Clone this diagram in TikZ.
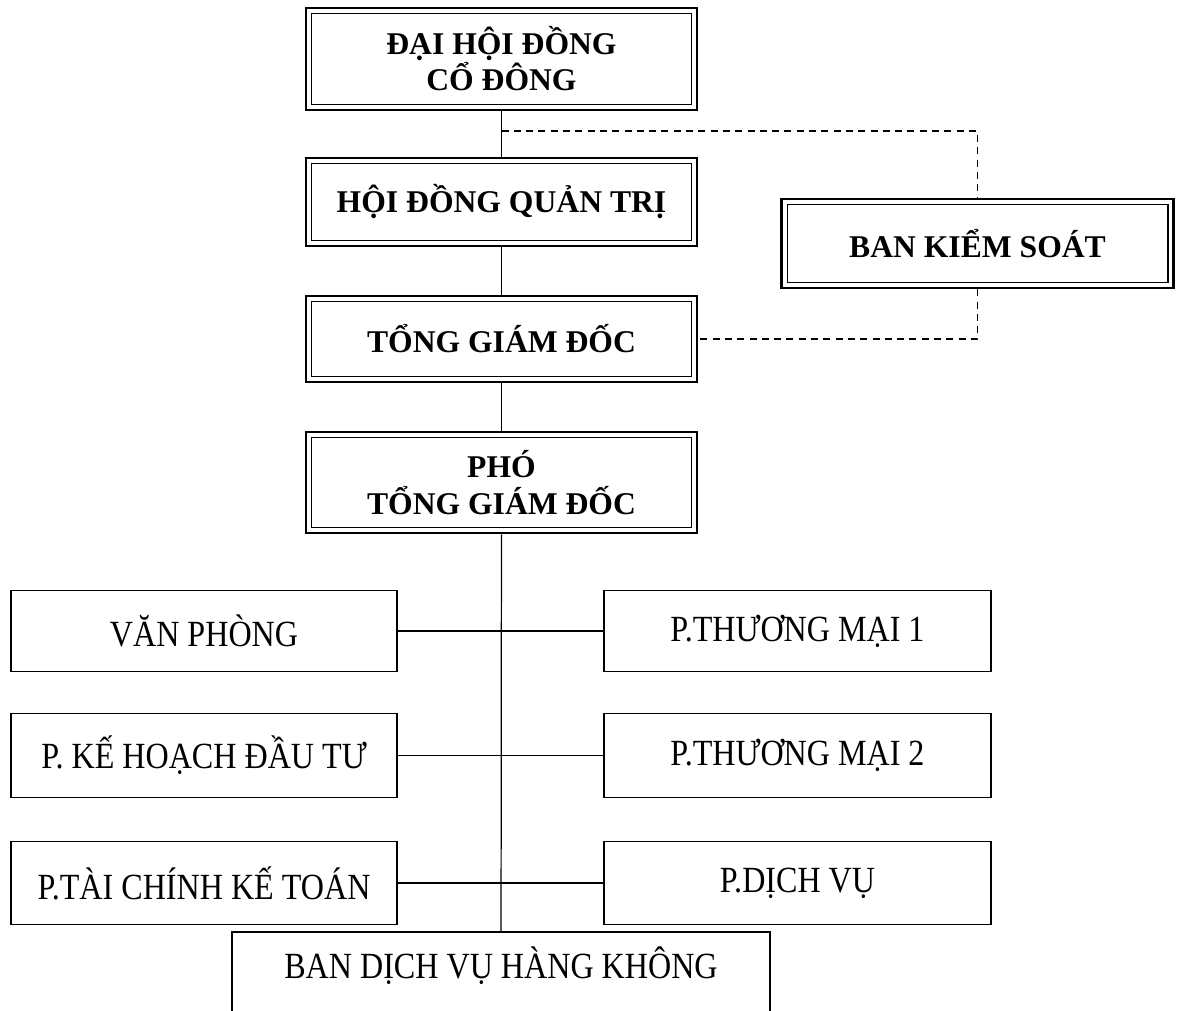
\documentclass[tikz,border=0pt]{standalone}
\usepackage{fontspec}
\setmainfont{Liberation Serif}
\newfontfamily\narrowfont[FakeStretch=0.87]{Liberation Serif}
\usetikzlibrary{calc}

\begin{document}
\begin{tikzpicture}[
    topbox/.style={draw, line width=1.5pt, minimum width=7.82cm, align=center,
      font=\bfseries\fontsize{18}{20.5}\selectfont,
      path picture={\draw[line width=0.7pt]
        ([shift={(3.2pt,3.2pt)}]path picture bounding box.south west) rectangle
        ([shift={(-3.2pt,-3.2pt)}]path picture bounding box.north east);}},
    deptbox/.style={draw, line width=0.9pt, minimum width=7.73cm, align=center,
      font=\narrowfont\fontsize{21}{24}\selectfont},
    link/.style={line width=0.7pt},
    ctrl/.style={line width=0.9pt, dash pattern=on 4pt off 3pt}]
  \useasboundingbox (0,0) rectangle (23.64,20.2);
  % top column
  \node[topbox, minimum height=2.04cm] (dhcd) at (10.03,19.02) {ĐẠI HỘI ĐỒNG\\CỔ ĐÔNG};
  \node[topbox, minimum height=1.76cm] (hdqt) at (10.03,16.16) {HỘI ĐỒNG QUẢN TRỊ};
  \node[topbox, minimum height=1.72cm] (tgd) at (10.03,13.42) {TỔNG GIÁM ĐỐC};
  \node[topbox, minimum height=2.02cm, font=\bfseries\fontsize{18}{21.5}\selectfont] (ptgd) at (10.03,10.55) {PHÓ\\TỔNG GIÁM ĐỐC};
  \node[topbox, minimum width=7.84cm, minimum height=1.78cm] (bks) at (19.55,15.33) {BAN KIỂM SOÁT};
  % departments
  \node[deptbox, minimum height=1.62cm] (vp) at (4.08,7.58) {VĂN PHÒNG};
  \node[deptbox, minimum height=1.62cm] (tm1) at (15.95,7.58) {P.THƯƠNG MẠI 1};
  \node[deptbox, minimum height=1.68cm] (khdt) at (4.08,5.09) {P. KẾ HOẠCH ĐẦU TƯ};
  \node[deptbox, minimum height=1.68cm] (tm2) at (15.95,5.09) {P.THƯƠNG MẠI 2};
  \node[deptbox, minimum height=1.66cm] (tckt) at (4.08,2.54) {P.TÀI CHÍNH KẾ TOÁN};
  \node[deptbox, minimum height=1.66cm] (dv) at (15.95,2.54) {P.DỊCH VỤ};
  \node[deptbox, minimum width=10.76cm, minimum height=1.76cm, text depth=0.55cm] (bdvhk) at (10.02,0.68) {BAN DỊCH VỤ HÀNG KHÔNG};
  % main line
  \draw[link] (dhcd) -- (hdqt);
  \draw[link] (hdqt) -- (tgd);
  \draw[link] (tgd) -- (ptgd);
  \draw[link] (ptgd) -- (bdvhk);
  \draw[link] (vp) -- (tm1);
  \draw[link] (khdt) -- (tm2);
  \draw[link] (tckt) -- (dv);
  % control
  \coordinate (j1) at ($(dhcd.south)!0.44!(hdqt.north)$);
  \draw[ctrl] (j1) -| (bks.north);
  \draw[ctrl] (bks.south) |- (tgd.east);
\end{tikzpicture}
\end{document}
